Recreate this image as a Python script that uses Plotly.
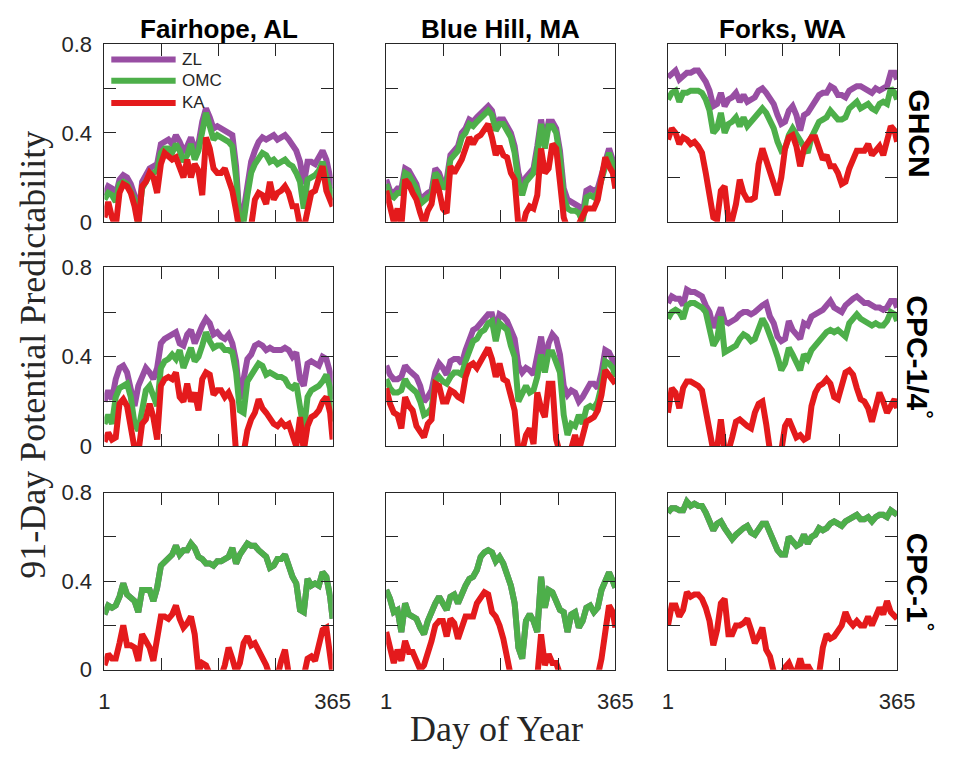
import plotly.graph_objects as go

W, H = 958, 761

# ---------------- data ----------------
DAYS = [1, 7, 13, 19, 25, 31, 37, 43, 49, 55, 61, 67, 73, 79, 85, 91, 97, 103, 109, 115,
        121, 127, 133, 139, 145, 151, 157, 163, 169, 175, 181, 187, 193, 199, 205, 211, 217,
        223, 229, 235, 241, 247, 253, 259, 265, 271, 277, 283, 289, 295, 301, 307, 313, 319,
        325, 331, 337, 343, 349, 355, 361, 365]

SITES = ["Fairhope, AL", "Blue Hill, MA", "Forks, WA"]
DATASETS = ["GHCN", "CPC-1/4<sup>°</sup>", "CPC-1<sup>°</sup>"]
MODELS = ["ZL", "OMC", "KA"]
COLORS = ["#984EA3", "#4DAF4A", "#E41A1C"]
X_TICKS = [1, 92, 183, 274, 365]
X_TICKTEXT = ["1", "", "", "", "365"]
Y_TICKS = [0, 0.2, 0.4, 0.6, 0.8]
Y_TICKTEXT = ["0", "", "0.4", "", "0.8"]

# GHCN
ZL_GHCN_FAIRHOPE = [0.12, 0.16, 0.15, 0.12, 0.19, 0.21, 0.20, 0.17, 0.12, 0.02,
                    0.18, 0.21, 0.24, 0.25, 0.26, 0.35, 0.36, 0.37, 0.35, 0.39,
                    0.36, 0.32, 0.34, 0.38, 0.33, 0.35, 0.45, 0.51, 0.47, 0.42,
                    0.43, 0.42, 0.41, 0.40, 0.39, 0.25, -0.01, 0.05, 0.18, 0.27,
                    0.32, 0.36, 0.38, 0.37, 0.38, 0.39, 0.37, 0.38, 0.39, 0.37,
                    0.35, 0.32, 0.27, 0.17, 0.27, 0.27, 0.26, 0.29, 0.32, 0.28,
                    0.21, 0.15]
OMC_GHCN_FAIRHOPE = [0.10, 0.13, 0.12, 0.09, 0.17, 0.18, 0.17, 0.14, 0.10, 0.00,
                     0.15, 0.18, 0.21, 0.22, 0.23, 0.31, 0.33, 0.33, 0.31, 0.35,
                     0.32, 0.27, 0.30, 0.35, 0.28, 0.32, 0.42, 0.49, 0.43, 0.37,
                     0.39, 0.38, 0.37, 0.36, 0.34, 0.20, -0.02, 0.00, 0.12, 0.22,
                     0.26, 0.29, 0.31, 0.30, 0.27, 0.28, 0.26, 0.27, 0.28, 0.26,
                     0.25, 0.22, 0.18, 0.06, 0.19, 0.20, 0.21, 0.23, 0.27, 0.20,
                     0.14, 0.10]
KA_GHCN_FAIRHOPE = [0.02, 0.09, 0.02, -0.02, 0.13, 0.17, 0.16, 0.13, 0.07, -0.02,
                    0.16, 0.18, 0.22, 0.20, 0.13, 0.26, 0.31, 0.29, 0.28, 0.29,
                    0.24, 0.20, 0.28, 0.20, 0.26, 0.23, 0.12, 0.38, 0.33, 0.24,
                    0.22, 0.22, 0.24, 0.18, 0.14, 0.05, -0.05, -0.05, -0.05, -0.02,
                    0.10, 0.13, 0.12, 0.08, 0.18, 0.10, 0.13, 0.14, 0.16, 0.13,
                    0.07, 0.07, -0.02, -0.03, 0.05, 0.13, 0.14, 0.19, 0.25, 0.14,
                    0.09, 0.07]

ZL_GHCN_BLUEHILL = [0.19, 0.14, 0.13, 0.15, 0.15, 0.24, 0.23, 0.20, 0.17, 0.10,
                    0.12, 0.13, 0.14, 0.24, 0.22, 0.17, 0.19, 0.30, 0.32, 0.34,
                    0.40, 0.42, 0.46, 0.45, 0.47, 0.49, 0.50, 0.52, 0.50, 0.43,
                    0.46, 0.46, 0.43, 0.40, 0.34, 0.22, 0.16, 0.20, 0.22, 0.24,
                    0.34, 0.46, 0.36, 0.45, 0.45, 0.42, 0.32, 0.15, 0.10, 0.09,
                    0.08, 0.07, 0.03, 0.14, 0.15, 0.14, 0.15, 0.20, 0.27, 0.33,
                    0.27, 0.24]
OMC_GHCN_BLUEHILL = [0.17, 0.12, 0.11, 0.13, 0.13, 0.22, 0.21, 0.18, 0.15, 0.08,
                     0.10, 0.11, 0.12, 0.22, 0.20, 0.15, 0.17, 0.28, 0.30, 0.32,
                     0.38, 0.40, 0.44, 0.43, 0.45, 0.47, 0.48, 0.50, 0.48, 0.41,
                     0.44, 0.44, 0.41, 0.38, 0.31, 0.18, 0.12, 0.18, 0.20, 0.22,
                     0.31, 0.44, 0.33, 0.43, 0.43, 0.40, 0.29, 0.11, 0.06, 0.05,
                     0.05, 0.04, 0.00, 0.11, 0.12, 0.11, 0.13, 0.18, 0.25, 0.31,
                     0.25, 0.22]
KA_GHCN_BLUEHILL = [0.14, 0.08, 0.00, 0.06, -0.02, 0.19, 0.17, 0.13, 0.10, 0.04,
                    -0.01, 0.05, 0.08, 0.19, 0.14, 0.06, 0.04, 0.25, 0.22, 0.25,
                    0.28, 0.33, 0.38, 0.35, 0.38, 0.39, 0.42, 0.44, 0.38, 0.30,
                    0.34, 0.30, 0.29, 0.22, 0.19, -0.02, -0.03, 0.04, 0.07, 0.06,
                    0.12, 0.33, 0.22, 0.24, 0.35, 0.33, 0.18, 0.02, -0.03, -0.03,
                    -0.03, -0.01, 0.03, 0.06, 0.06, 0.06, 0.10, 0.18, 0.29, 0.25,
                    0.22, 0.15]

ZL_GHCN_FORKS = [0.65, 0.67, 0.68, 0.64, 0.66, 0.67, 0.67, 0.68, 0.68, 0.66,
                 0.63, 0.59, 0.52, 0.53, 0.58, 0.52, 0.55, 0.56, 0.58, 0.54,
                 0.57, 0.54, 0.55, 0.56, 0.59, 0.60, 0.58, 0.55, 0.53, 0.48,
                 0.44, 0.45, 0.50, 0.52, 0.48, 0.41, 0.48, 0.49, 0.52, 0.55,
                 0.57, 0.58, 0.58, 0.61, 0.60, 0.57, 0.57, 0.56, 0.59, 0.60,
                 0.61, 0.61, 0.60, 0.59, 0.58, 0.60, 0.59, 0.60, 0.61, 0.67,
                 0.67, 0.64]
OMC_GHCN_FORKS = [0.55, 0.58, 0.59, 0.54, 0.58, 0.58, 0.59, 0.59, 0.59, 0.58,
                  0.55, 0.50, 0.40, 0.42, 0.49, 0.40, 0.44, 0.45, 0.47, 0.43,
                  0.47, 0.43, 0.45, 0.47, 0.50, 0.51, 0.49, 0.45, 0.42, 0.36,
                  0.32, 0.33, 0.39, 0.42, 0.39, 0.37, 0.33, 0.31, 0.38, 0.42,
                  0.45, 0.46, 0.47, 0.50, 0.48, 0.46, 0.46, 0.47, 0.51, 0.53,
                  0.54, 0.51, 0.52, 0.53, 0.51, 0.50, 0.53, 0.54, 0.53, 0.60,
                  0.58, 0.55]
KA_GHCN_FORKS = [0.37, 0.42, 0.40, 0.35, 0.38, 0.37, 0.35, 0.36, 0.34, 0.31,
                 0.22, 0.13, 0.02, 0.01, 0.14, 0.16, 0.01, 0.01, 0.08, 0.19,
                 0.13, 0.10, 0.10, 0.11, 0.26, 0.33, 0.28, 0.22, 0.17, 0.12,
                 0.20, 0.33, 0.38, 0.39, 0.34, 0.25, 0.33, 0.36, 0.38, 0.38,
                 0.32, 0.28, 0.30, 0.25, 0.25, 0.22, 0.17, 0.18, 0.24, 0.28,
                 0.32, 0.32, 0.32, 0.35, 0.30, 0.32, 0.34, 0.30, 0.38, 0.43,
                 0.41, 0.36]

# CPC-1/4
ZL_CPC4_FAIRHOPE = [0.20, 0.25, 0.21, 0.30, 0.35, 0.36, 0.33, 0.25, 0.18, 0.27,
                    0.31, 0.35, 0.33, 0.30, 0.35, 0.46, 0.48, 0.49, 0.50, 0.51,
                    0.46, 0.45, 0.50, 0.52, 0.46, 0.51, 0.54, 0.57, 0.55, 0.50,
                    0.51, 0.49, 0.48, 0.50, 0.46, 0.38, 0.21, 0.30, 0.39, 0.41,
                    0.45, 0.46, 0.45, 0.43, 0.44, 0.43, 0.43, 0.43, 0.44, 0.43,
                    0.40, 0.42, 0.30, 0.27, 0.37, 0.38, 0.37, 0.36, 0.40, 0.39,
                    0.33, 0.21]
OMC_CPC4_FAIRHOPE = [0.10, 0.14, 0.10, 0.22, 0.26, 0.27, 0.28, 0.22, 0.10, 0.07,
                     0.18, 0.25, 0.27, 0.22, 0.18, 0.35, 0.38, 0.39, 0.41, 0.39,
                     0.43, 0.35, 0.40, 0.44, 0.38, 0.40, 0.45, 0.51, 0.47, 0.44,
                     0.45, 0.45, 0.43, 0.43, 0.42, 0.33, 0.16, 0.15, 0.29, 0.32,
                     0.34, 0.37, 0.36, 0.32, 0.33, 0.32, 0.31, 0.31, 0.30, 0.27,
                     0.26, 0.28, 0.17, 0.07, 0.22, 0.25, 0.26, 0.27, 0.29, 0.32,
                     0.26, 0.11]
KA_CPC4_FAIRHOPE = [0.02, 0.06, 0.03, 0.04, 0.19, 0.21, 0.18, 0.10, -0.01, -0.03,
                    0.10, 0.12, 0.19, 0.13, 0.03, 0.27, 0.30, 0.31, 0.30, 0.33,
                    0.22, 0.20, 0.28, 0.20, 0.24, 0.16, 0.30, 0.33, 0.32, 0.23,
                    0.25, 0.25, 0.22, 0.24, 0.20, -0.03, -0.04, -0.03, 0.07, 0.12,
                    0.15, 0.21, 0.17, 0.15, 0.12, 0.10, 0.09, 0.11, 0.09, 0.10,
                    0.05, 0.00, 0.13, -0.02, 0.09, 0.13, 0.14, 0.16, 0.20, 0.22,
                    0.15, 0.03]

ZL_CPC4_BLUEHILL = [0.36, 0.32, 0.30, 0.30, 0.31, 0.36, 0.34, 0.32, 0.31, 0.27,
                    0.20, 0.22, 0.25, 0.33, 0.37, 0.35, 0.32, 0.38, 0.39, 0.39,
                    0.37, 0.43, 0.47, 0.52, 0.53, 0.55, 0.56, 0.59, 0.59, 0.52,
                    0.59, 0.58, 0.56, 0.51, 0.48, 0.36, 0.33, 0.35, 0.34, 0.32,
                    0.42, 0.49, 0.37, 0.46, 0.50, 0.48, 0.41, 0.27, 0.23, 0.25,
                    0.24, 0.20, 0.22, 0.25, 0.28, 0.28, 0.26, 0.33, 0.43, 0.42,
                    0.39, 0.36]
OMC_CPC4_BLUEHILL = [0.30, 0.26, 0.24, 0.24, 0.25, 0.30, 0.27, 0.25, 0.24, 0.20,
                     0.14, 0.15, 0.17, 0.29, 0.31, 0.29, 0.28, 0.31, 0.33, 0.33,
                     0.32, 0.38, 0.42, 0.47, 0.48, 0.51, 0.52, 0.55, 0.56, 0.47,
                     0.55, 0.53, 0.52, 0.45, 0.40, 0.20, 0.23, 0.27, 0.24, 0.25,
                     0.31, 0.41, 0.33, 0.42, 0.42, 0.37, 0.33, 0.14, 0.05, 0.10,
                     0.09, 0.14, 0.10, 0.17, 0.18, 0.17, 0.20, 0.27, 0.38, 0.37,
                     0.35, 0.31]
KA_CPC4_BLUEHILL = [0.26, 0.19, 0.15, 0.14, 0.08, 0.22, 0.18, 0.16, 0.09, 0.06,
                    0.04, 0.10, 0.12, 0.28, 0.27, 0.20, 0.20, 0.25, 0.24, 0.22,
                    0.21, 0.31, 0.36, 0.37, 0.35, 0.38, 0.41, 0.44, 0.39, 0.31,
                    0.37, 0.30, 0.29, 0.22, 0.16, -0.02, -0.02, 0.05, 0.08, 0.01,
                    0.24, 0.17, 0.13, 0.28, 0.28, 0.03, -0.03, -0.03, -0.03, -0.01,
                    0.05, -0.02, 0.05, 0.11, 0.12, 0.13, 0.16, 0.23, 0.34, 0.32,
                    0.30, 0.28]

ZL_CPC4_FORKS = [0.64, 0.67, 0.66, 0.66, 0.63, 0.70, 0.69, 0.69, 0.68, 0.67,
                 0.63, 0.60, 0.53, 0.58, 0.62, 0.56, 0.55, 0.56, 0.57, 0.59,
                 0.60, 0.60, 0.59, 0.60, 0.62, 0.63, 0.64, 0.58, 0.55, 0.49,
                 0.47, 0.48, 0.56, 0.52, 0.50, 0.48, 0.55, 0.54, 0.58, 0.59,
                 0.60, 0.61, 0.63, 0.65, 0.62, 0.61, 0.60, 0.63, 0.65, 0.66,
                 0.67, 0.65, 0.64, 0.64, 0.63, 0.62, 0.62, 0.61, 0.62, 0.65,
                 0.65, 0.62]
OMC_CPC4_FORKS = [0.57, 0.60, 0.61, 0.60, 0.57, 0.63, 0.64, 0.64, 0.63, 0.62,
                  0.60, 0.53, 0.45, 0.48, 0.58, 0.42, 0.43, 0.44, 0.45, 0.48,
                  0.50, 0.49, 0.47, 0.48, 0.53, 0.57, 0.54, 0.50, 0.45, 0.40,
                  0.34, 0.37, 0.44, 0.41, 0.38, 0.34, 0.41, 0.39, 0.43, 0.45,
                  0.47, 0.50, 0.51, 0.52, 0.51, 0.52, 0.50, 0.49, 0.55, 0.57,
                  0.59, 0.57, 0.56, 0.55, 0.54, 0.55, 0.54, 0.54, 0.56, 0.60,
                  0.59, 0.56]
KA_CPC4_FORKS = [0.15, 0.26, 0.24, 0.17, 0.26, 0.29, 0.29, 0.28, 0.27, 0.25,
                 0.16, 0.05, -0.02, -0.01, 0.12, -0.02, -0.02, 0.04, 0.11, 0.12,
                 0.10, 0.09, 0.08, 0.15, 0.19, 0.20, 0.10, -0.02, -0.03, -0.03,
                 -0.02, 0.09, 0.12, 0.08, 0.04, 0.05, 0.03, 0.04, 0.18, 0.24,
                 0.27, 0.28, 0.30, 0.28, 0.22, 0.21, 0.28, 0.33, 0.34, 0.32,
                 0.26, 0.21, 0.20, 0.17, 0.11, 0.17, 0.24, 0.20, 0.15, 0.18,
                 0.21, 0.17]

# CPC-1 (ZL coincides with OMC in these panels)
OMC_CPC1_FAIRHOPE = [0.25, 0.29, 0.28, 0.29, 0.33, 0.39, 0.34, 0.32, 0.31, 0.26,
                     0.36, 0.36, 0.36, 0.31, 0.37, 0.47, 0.49, 0.50, 0.52, 0.56,
                     0.52, 0.54, 0.54, 0.57, 0.55, 0.51, 0.50, 0.48, 0.48, 0.47,
                     0.49, 0.49, 0.50, 0.51, 0.55, 0.48, 0.52, 0.54, 0.57, 0.56,
                     0.56, 0.54, 0.52, 0.51, 0.46, 0.47, 0.50, 0.50, 0.52, 0.46,
                     0.42, 0.39, 0.27, 0.26, 0.41, 0.38, 0.39, 0.38, 0.44, 0.42,
                     0.33, 0.23]
ZL_CPC1_FAIRHOPE = OMC_CPC1_FAIRHOPE
KA_CPC1_FAIRHOPE = [0.02, 0.07, 0.05, 0.05, 0.12, 0.20, 0.11, 0.11, 0.10, 0.04,
                    0.16, 0.13, 0.10, 0.04, 0.13, 0.24, 0.24, 0.23, 0.25, 0.29,
                    0.23, 0.19, 0.21, 0.24, 0.16, -0.01, 0.03, 0.02, -0.02, -0.03,
                    -0.03, -0.03, 0.02, 0.10, 0.05, -0.01, 0.03, 0.12, 0.15, 0.11,
                    0.12, 0.09, 0.05, 0.02, -0.03, -0.03, -0.03, 0.04, 0.09, -0.02,
                    -0.03, -0.03, -0.03, -0.03, 0.05, 0.06, 0.04, 0.11, 0.18, 0.19,
                    0.05, -0.02]

OMC_CPC1_BLUEHILL = [0.36, 0.32, 0.26, 0.27, 0.17, 0.30, 0.25, 0.24, 0.23, 0.19,
                     0.16, 0.22, 0.27, 0.30, 0.33, 0.30, 0.27, 0.33, 0.34, 0.30,
                     0.35, 0.38, 0.41, 0.42, 0.45, 0.51, 0.53, 0.54, 0.53, 0.49,
                     0.51, 0.48, 0.43, 0.38, 0.30, 0.10, 0.05, 0.22, 0.25, 0.22,
                     0.17, 0.42, 0.28, 0.36, 0.35, 0.31, 0.27, 0.26, 0.17, 0.25,
                     0.26, 0.19, 0.22, 0.28, 0.29, 0.26, 0.28, 0.36, 0.41, 0.44,
                     0.40, 0.37]
ZL_CPC1_BLUEHILL = OMC_CPC1_BLUEHILL
KA_CPC1_BLUEHILL = [0.17, 0.10, 0.03, 0.09, 0.04, 0.13, 0.08, 0.08, 0.04, 0.00,
                    0.02, 0.07, 0.13, 0.20, 0.22, 0.22, 0.15, 0.23, 0.21, 0.14,
                    0.20, 0.24, 0.24, 0.24, 0.30, 0.33, 0.35, 0.34, 0.26, 0.24,
                    0.20, 0.14, 0.04, -0.03, -0.03, -0.03, -0.03, -0.03, -0.03, -0.03,
                    -0.03, 0.16, 0.02, 0.07, 0.03, 0.03, -0.02, -0.03, -0.03, -0.03,
                    -0.03, -0.03, -0.03, -0.03, -0.03, -0.03, -0.03, 0.05, 0.18, 0.29,
                    0.26, 0.19]

OMC_CPC1_FORKS = [0.71, 0.73, 0.73, 0.72, 0.72, 0.76, 0.74, 0.75, 0.74, 0.74,
                  0.71, 0.67, 0.63, 0.66, 0.67, 0.64, 0.61, 0.59, 0.61, 0.63,
                  0.64, 0.65, 0.62, 0.61, 0.64, 0.66, 0.66, 0.62, 0.58, 0.54,
                  0.52, 0.52, 0.60, 0.58, 0.56, 0.57, 0.61, 0.57, 0.60, 0.61,
                  0.64, 0.63, 0.64, 0.66, 0.67, 0.66, 0.65, 0.67, 0.68, 0.69,
                  0.70, 0.68, 0.68, 0.69, 0.67, 0.69, 0.70, 0.70, 0.69, 0.72,
                  0.71, 0.70]
ZL_CPC1_FORKS = OMC_CPC1_FORKS
KA_CPC1_FORKS = [0.20, 0.29, 0.29, 0.24, 0.27, 0.35, 0.33, 0.34, 0.34, 0.32,
                 0.28, 0.22, 0.11, 0.18, 0.30, 0.32, 0.16, 0.16, 0.20, 0.20,
                 0.21, 0.23, 0.18, 0.12, 0.15, 0.19, 0.09, 0.06, -0.01, -0.03,
                 -0.03, 0.01, 0.03, -0.01, -0.01, 0.05, -0.01, 0.02, -0.01, -0.02,
                 -0.02, 0.10, 0.16, 0.14, 0.15, 0.18, 0.20, 0.26, 0.22, 0.20,
                 0.22, 0.20, 0.20, 0.24, 0.20, 0.24, 0.28, 0.25, 0.31, 0.26,
                 0.24, 0.23]

PANELS = [
    [(ZL_GHCN_FAIRHOPE, OMC_GHCN_FAIRHOPE, KA_GHCN_FAIRHOPE),
     (ZL_GHCN_BLUEHILL, OMC_GHCN_BLUEHILL, KA_GHCN_BLUEHILL),
     (ZL_GHCN_FORKS, OMC_GHCN_FORKS, KA_GHCN_FORKS)],
    [(ZL_CPC4_FAIRHOPE, OMC_CPC4_FAIRHOPE, KA_CPC4_FAIRHOPE),
     (ZL_CPC4_BLUEHILL, OMC_CPC4_BLUEHILL, KA_CPC4_BLUEHILL),
     (ZL_CPC4_FORKS, OMC_CPC4_FORKS, KA_CPC4_FORKS)],
    [(ZL_CPC1_FAIRHOPE, OMC_CPC1_FAIRHOPE, KA_CPC1_FAIRHOPE),
     (ZL_CPC1_BLUEHILL, OMC_CPC1_BLUEHILL, KA_CPC1_BLUEHILL),
     (ZL_CPC1_FORKS, OMC_CPC1_FORKS, KA_CPC1_FORKS)],
]

# ---------------- layout (pixel geometry) ----------------
COL_PX = [(101, 335), (390, 625), (679, 914)]
ROW_PX = [(33, 217), (264, 449), (497, 680)]


def fx(px):
    return px / W


def fy(py):
    return 1 - py / H


AXCOL = "#262626"
TICKFONT = dict(family="Liberation Sans, Arial, sans-serif", size=22, color=AXCOL)

fig = go.Figure()
layout = dict(
    width=W, height=H, margin=dict(l=0, r=0, t=0, b=0),
    paper_bgcolor="white", plot_bgcolor="white", showlegend=False,
)

for r in range(3):
    for c in range(3):
        k = r * 3 + c
        sfx = "" if k == 0 else str(k + 1)
        for m, col, ys in zip(MODELS, COLORS, PANELS[r][c]):
            fig.add_trace(go.Scatter(
                x=DAYS, y=ys, mode="lines", name=m,
                line=dict(color=col, width=6),
                xaxis="x" + sfx, yaxis="y" + sfx, hoverinfo="skip"))
        layout["xaxis" + sfx] = dict(
            domain=[fx(COL_PX[c][0]), fx(COL_PX[c][1])], anchor="y" + sfx,
            range=[1, 365], tickmode="array", tickvals=X_TICKS,
            ticktext=X_TICKTEXT, showticklabels=(r == 2),
            ticks="inside", ticklen=12, tickwidth=1, tickcolor=AXCOL,
            showline=True, linecolor=AXCOL, linewidth=1, mirror="ticks",
            showgrid=False, zeroline=False, tickfont=TICKFONT,
            ticklabelstandoff=12)
        layout["yaxis" + sfx] = dict(
            domain=[fy(ROW_PX[r][1]), fy(ROW_PX[r][0])], anchor="x" + sfx,
            range=[0, 0.8], tickmode="array", tickvals=Y_TICKS,
            ticktext=Y_TICKTEXT, showticklabels=(c == 0),
            ticks="inside", ticklen=12, tickwidth=1, tickcolor=AXCOL,
            showline=True, linecolor=AXCOL, linewidth=1, mirror="ticks",
            showgrid=False, zeroline=False, tickfont=TICKFONT,
            ticklabelstandoff=7)

annotations = []
for c, s in enumerate(SITES):
    annotations.append(dict(
        text=s, x=fx((COL_PX[c][0] + COL_PX[c][1]) / 2), y=fy(18),
        xref="paper", yref="paper", showarrow=False, xanchor="center", yanchor="middle",
        font=dict(family="Liberation Sans, Arial, sans-serif", size=26, color="black", weight="bold")))
for r, d in enumerate(DATASETS):
    annotations.append(dict(
        text=d, x=fx(937), y=fy((ROW_PX[r][0] + ROW_PX[r][1]) / 2),
        xref="paper", yref="paper", showarrow=False, xanchor="center", yanchor="middle",
        textangle=90,
        font=dict(family="Liberation Sans, Arial, sans-serif", size=30, color="black", weight="bold")))

SERIF = dict(family="Liberation Serif, Times New Roman, serif", size=36, color="#262626")
annotations.append(dict(text="91-Day Potential Predictability", x=fx(28), y=fy(354),
                        xref="paper", yref="paper", showarrow=False, textangle=-90,
                        xanchor="center", yanchor="middle", font=SERIF))
annotations.append(dict(text="Day of Year", x=fx(503), y=fy(741),
                        xref="paper", yref="paper", showarrow=False,
                        xanchor="center", yanchor="middle", font=SERIF))

# legend (drawn inside the first panel)
LEG_Y = [49, 71, 94]
shapes = []
for m, col, ly in zip(MODELS, COLORS, LEG_Y):
    shapes.append(dict(type="line", xref="paper", yref="paper",
                       x0=fx(108), x1=fx(174), y0=fy(ly), y1=fy(ly),
                       line=dict(color=col, width=6)))
    annotations.append(dict(text=m, x=fx(178), y=fy(ly), xref="paper", yref="paper",
                            showarrow=False, xanchor="left", yanchor="middle",
                            font=dict(family="Liberation Sans, Arial, sans-serif", size=17, color="#262626")))

layout["annotations"] = annotations
layout["shapes"] = shapes
fig.update_layout(**layout)
fig.write_html("out.html")
